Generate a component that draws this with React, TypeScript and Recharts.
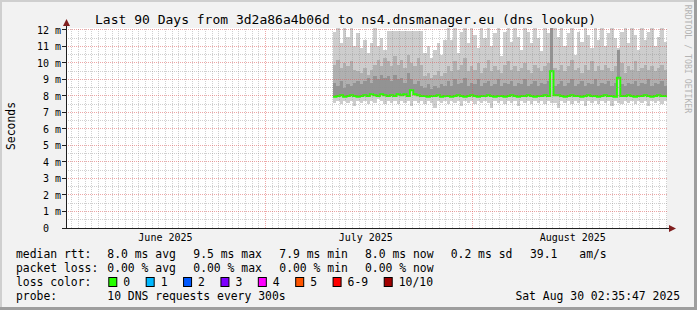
import React from 'react';
import { ComposedChart, Area, Line, XAxis, YAxis, CartesianGrid, ReferenceLine } from 'recharts';

// ---- time frame (days since the start of the 90 day window) ----
const START = Date.UTC(2025, 5, 1, 2, 35, 47);
const DAY = 86400000;
const dayOf = (y: number, m: number, d: number) => (Date.UTC(y, m, d) - START) / DAY;

const FIRST_SAMPLE_DAY = 40;
const SAMPLE_STEP = 0.5;

// ---- smoke / median values (ms), one per half day starting July 11 ----
const smokeTop = [
  11.9, 12.1, 11.2, 12.1, 11.6, 12.1, 11.0, 11.8, 10.9, 11.4,
  10.6, 11.2, 12.1, 11.0, 11.5, 10.8, 11.95, 11.95, 11.95, 11.95,
  11.95, 11.95, 11.95, 11.95, 11.95, 11.95, 11.95, 10.6, 11.0, 10.3,
  10.8, 11.2, 10.5, 11.4, 12.1, 11.4, 12.1, 10.6, 11.9, 12.1,
  11.2, 12.1, 11.7, 10.9, 12.1, 11.5, 12.1, 11.0, 11.8, 12.1,
  10.4, 11.9, 12.1, 11.3, 12.1, 11.6, 10.8, 12.1, 11.9, 11.2,
  12.1, 11.5, 10.7, 12.1, 11.8, 12.12, 12.1, 11.6, 12.1, 11.0,
  11.8, 12.1, 10.5, 11.9, 11.3, 12.1, 11.7, 10.9, 12.1, 11.4,
  12.1, 11.0, 11.8, 12.1, 11.5, 10.9, 11.9, 12.1, 11.2, 12.1,
  11.7, 10.8, 12.1, 11.4, 11.9, 12.1, 11.0, 11.6, 12.1, 11.3,
  11.8,
];
const smokeMid = [
  9.9, 10.2, 9.7, 10.0, 9.8, 10.1, 9.6, 9.5, 9.4, 9.7,
  9.3, 9.6, 9.9, 10.2, 9.8, 10.3, 10.1, 9.8, 10.4, 9.9,
  10.2, 9.7, 10.5, 10.0, 9.8, 10.3, 9.9, 9.2, 9.4, 9.1,
  9.3, 9.5, 9.2, 9.4, 9.8, 9.5, 10.1, 9.6, 9.9, 10.3,
  9.5, 9.8, 9.6, 10.0, 9.4, 9.7, 10.2, 9.5, 9.8, 9.6,
  9.4, 9.9, 10.1, 9.6, 9.8, 9.5, 9.7, 10.0, 9.6, 9.4,
  9.9, 9.7, 9.5, 9.8, 10.0, 12.12, 9.7, 9.6, 9.9, 9.5,
  9.8, 10.2, 9.6, 9.7, 9.4, 9.9, 9.6, 10.1, 9.5, 9.8,
  9.6, 9.9, 9.7, 9.5, 9.8, 10.8, 10.0, 9.4, 9.8, 9.6,
  10.1, 9.5, 9.7, 9.9, 9.6, 9.8, 9.5, 9.7, 9.9, 9.6,
  9.8,
];
const smokeDark = [
  8.8, 8.6, 8.9, 8.5, 8.7, 8.6, 8.8, 8.9, 8.7, 8.9,
  9.1, 8.8, 9.2, 9.0, 9.3, 9.1, 9.2, 8.9, 9.3, 9.0,
  9.1, 8.8, 9.4, 9.0, 8.7, 8.9, 8.6, 8.5, 8.7, 8.4,
  8.6, 8.5, 8.7, 8.6, 8.9, 8.6, 9.0, 8.7, 8.8, 9.1,
  8.6, 8.8, 8.7, 9.0, 8.6, 8.8, 8.9, 8.6, 8.7, 9.0,
  8.6, 8.8, 8.7, 8.9, 8.6, 8.8, 8.7, 9.0, 8.6, 8.7,
  8.9, 8.6, 8.8, 8.7, 8.9, 12.12, 8.6, 8.7, 8.9, 8.6,
  8.8, 9.0, 8.6, 8.7, 8.9, 8.6, 8.8, 8.7, 9.0, 8.6,
  8.8, 8.7, 8.9, 8.6, 8.8, 10.8, 8.7, 8.6, 8.8, 8.7,
  8.9, 8.6, 8.8, 8.7, 9.0, 8.6, 8.8, 8.7, 8.9, 8.6,
  8.8,
];
const smokeBottom = [
  7.6, 7.7, 7.5, 7.7, 7.6, 7.7, 7.4, 7.7, 7.6, 7.7,
  7.5, 7.7, 7.6, 7.8, 7.7, 7.5, 7.7, 7.6, 7.7, 7.5,
  7.7, 7.6, 7.7, 7.4, 7.7, 7.6, 7.7, 7.5, 7.7, 7.6,
  7.3, 7.7, 7.6, 7.7, 7.5, 7.7, 7.6, 7.7, 7.4, 7.7,
  7.6, 7.7, 7.5, 7.7, 7.6, 7.7, 7.6, 7.3, 7.7, 7.6,
  7.7, 7.5, 7.7, 7.6, 7.7, 7.4, 7.7, 7.6, 7.7, 7.5,
  7.7, 7.6, 7.7, 7.5, 7.7, 7.6, 7.6, 7.3, 7.7, 7.6,
  7.7, 7.5, 7.7, 7.6, 7.7, 7.4, 7.7, 7.6, 7.7, 7.5,
  7.7, 7.6, 7.7, 7.4, 7.7, 7.6, 7.5, 7.7, 7.6, 7.7,
  7.5, 7.7, 7.6, 7.7, 7.4, 7.7, 7.6, 7.7, 7.5, 7.7,
  7.6,
];
const medianRtt = [
  7.95, 8.0, 8.05, 7.95, 8.0, 8.05, 8.0, 7.95, 8.0, 8.05,
  8.0, 8.1, 8.05, 8.0, 8.1, 8.05, 8.0, 8.05, 8.0, 8.1,
  8.05, 8.1, 8.0, 8.35, 8.1, 8.05, 8.0, 8.0, 7.95, 8.0,
  8.0, 8.05, 7.95, 8.0, 8.0, 7.95, 8.0, 8.05, 8.0, 7.95,
  8.0, 8.05, 8.0, 7.95, 8.0, 8.0, 8.05, 8.0, 7.95, 8.0,
  8.0, 7.95, 8.0, 8.05, 8.0, 7.95, 8.0, 8.0, 8.05, 8.0,
  7.95, 8.0, 8.0, 8.05, 8.0, 9.5, 8.05, 8.05, 8.0, 7.95,
  8.0, 8.05, 8.0, 8.0, 7.95, 8.0, 8.05, 8.0, 8.0, 7.95,
  8.0, 8.05, 8.0, 8.0, 7.95, 9.1, 8.0, 8.0, 8.05, 8.0,
  7.95, 8.0, 8.0, 8.05, 8.0, 7.95, 8.0, 8.05, 8.0, 8.0,
  8.0,
];

// ---- axis labels ----
const monthNames = ['June 2025', 'July 2025', 'August 2025'];
const monthLabelDays = [dayOf(2025, 5, 16), dayOf(2025, 6, 16), dayOf(2025, 7, 16)];
const monthStartDays = [dayOf(2025, 6, 1), dayOf(2025, 7, 1)];
const yTicks = [0, 1, 2, 3, 4, 5, 6, 7, 8, 9, 10, 11, 12];
const Y_MAX = 12.12;

// ---- legend texts ----
const title = 'Last 90 Days from 3d2a86a4b06d to ns4.dnsmanager.eu (dns lookup)';
const rttStats = ['8.0 ms avg', '9.5 ms max', '7.9 ms min', '8.0 ms now', '0.2 ms sd', '39.1', 'am/s'];
const lossStats = ['0.00 % avg', '0.00 % max', '0.00 % min', '0.00 % now'];
const lossLabels = ['0', '1', '2', '3', '4', '5', '6-9', '10/10'];
const lossColors = ['#26ff00', '#00b8ff', '#0059ff', '#7e00ff', '#ff00ff', '#ff5500', '#ff0000', '#a10000'];
const probeText = '10 DNS requests every 300s';
const stamp = 'Sat Aug 30 02:35:47 2025';

const data = smokeTop.map((_, i) => ({
  t: FIRST_SAMPLE_DAY + i * SAMPLE_STEP,
  outer: [smokeBottom[i], smokeTop[i]],
  mid: [medianRtt[i], smokeMid[i]],
  dark: [medianRtt[i], smokeDark[i]],
  med: medianRtt[i],
}));

const dayLines: number[] = [];
for (let k = 1; k <= 90; k++) {
  const d = dayOf(2025, 5, 1 + k);
  if (d > 0 && d < 90 && !monthStartDays.some((m) => Math.abs(m - d) < 1e-6)) dayLines.push(d);
}
const halfLines: number[] = [];
for (let v = 0.5; v < 12.1; v += 1) halfLines.push(v);
const majorY = yTicks.filter((v) => v > 0);

const MONO = '"DejaVu Sans Mono", monospace';
const CW = 6.88;
const MINOR = 'rgba(143,143,143,0.42)';
const MAJOR = 'rgba(222,79,79,0.5)';

const css = `
.recharts-reference-line line, .recharts-cartesian-axis-line, .recharts-cartesian-axis-tick-line { shape-rendering: crispEdges; }
.recharts-area-area { shape-rendering: crispEdges; }
`;

const YTick = (props: any) => {
  const { x, y, payload } = props;
  const v = payload.value;
  const label = v === 0 ? '0  ' : `${v} m`;
  return (
    <text x={x} y={y} dy={4} textAnchor="end" xmlSpace="preserve" style={{ whiteSpace: 'pre' }}
      fontFamily={MONO} fontSize={10} fill="#000">{label}</text>
  );
};

const fmtMonth = (v: number) => {
  const i = monthLabelDays.findIndex((d) => Math.abs(d - v) < 1e-6);
  return i >= 0 ? monthNames[i] : '';
};

export default function App() {
  const rowY = [258, 272, 286, 300];
  const statX = [107.3, 193.3, 279.3, 365, 450.7, 530, 579.3];
  let lx = 108.3;
  const lossItems = lossLabels.map((lab, i) => {
    const item = { x: lx, lab, col: lossColors[i] };
    lx = lx + 15 + lab.length * CW + 15.5;
    return item;
  });
  return (
    <div style={{ position: 'absolute', left: 0, top: 0, width: 697, height: 310, background: '#f2f2f2', overflow: 'hidden' }}>
      <style>{css}</style>
      <ComposedChart width={697} height={310} data={data} margin={{ top: 28, right: 30, bottom: 52, left: 6 }}>
        <CartesianGrid fill="#ffffff" horizontal={false} vertical={false} stroke="none" />
        <XAxis type="number" dataKey="t" domain={[0, 90]} ticks={monthLabelDays} tickFormatter={fmtMonth}
          allowDataOverflow height={30} tickLine={false} tickSize={0} tickMargin={6}
          axisLine={{ stroke: '#1f1f1f' }} interval={0}
          tick={{ fontFamily: MONO, fontSize: 10, fill: '#000' }} />
        <YAxis type="number" domain={[0, Y_MAX]} ticks={yTicks} allowDataOverflow width={60}
          tickSize={4} tickMargin={1} tickLine={{ stroke: '#1f1f1f' }} axisLine={{ stroke: '#1f1f1f' }}
          tick={<YTick />} interval={0} />
        <Area dataKey="outer" type="stepAfter" fill="#cdcdcd" fillOpacity={1} stroke="none" isAnimationActive={false} dot={false} activeDot={false} />
        <Area dataKey="mid" type="stepAfter" fill="#b0b0b0" fillOpacity={1} stroke="none" isAnimationActive={false} dot={false} activeDot={false} />
        <Area dataKey="dark" type="stepAfter" fill="#939393" fillOpacity={1} stroke="none" isAnimationActive={false} dot={false} activeDot={false} />
        <Line dataKey="med" type="stepAfter" stroke="#26ff00" strokeWidth={2} dot={false} activeDot={false} isAnimationActive={false} />
        {dayLines.map((d) => (
          <ReferenceLine key={`d${d}`} x={d} stroke={MINOR} strokeDasharray="1 1" />
        ))}
        {halfLines.map((v) => (
          <ReferenceLine key={`h${v}`} y={v} stroke={MINOR} strokeDasharray="1 1" />
        ))}
        {monthStartDays.map((d) => (
          <ReferenceLine key={`m${d}`} x={d} stroke={MAJOR} strokeDasharray="1 1" />
        ))}
        {majorY.map((v) => (
          <ReferenceLine key={`y${v}`} y={v} stroke={MAJOR} strokeDasharray="1 1" />
        ))}
      </ComposedChart>
      <svg width={697} height={310} style={{ position: 'absolute', left: 0, top: 0, pointerEvents: 'none' }}>
        {/* frame */}
        <rect x={0} y={0} width={697} height={2} fill="#cfcfcf" />
        <rect x={0} y={0} width={2} height={310} fill="#cfcfcf" />
        <rect x={0} y={307} width={697} height={3} fill="#9e9e9e" />
        <rect x={694} y={0} width={3} height={310} fill="#9e9e9e" />
        {/* axis extensions and arrows */}
        <line x1={66.5} y1={22} x2={66.5} y2={28} stroke="#1f1f1f" />
        <line x1={62} y1={228.5} x2={66} y2={228.5} stroke="#1f1f1f" />
        <line x1={667} y1={228.5} x2={671} y2={228.5} stroke="#1f1f1f" />
        <polygon points="63,26 70,26 66.5,19" fill="#801f1f" />
        <polygon points="669,225 669,232 676,228.5" fill="#801f1f" />
        {/* title */}
        <text x={345.5} y={24} textAnchor="middle" fontFamily={MONO} fontSize={13} fill="#000">{title}</text>
        {/* y label */}
        <text transform="translate(15,126) rotate(-90)" textAnchor="middle" fontFamily={MONO} fontSize={11.4} fill="#000">Seconds</text>
        {/* watermark */}
        <text transform="translate(685,59) rotate(90)" textAnchor="middle" fontFamily={MONO} fontSize={8.2} fill="#b4b4b4">RRDTOOL / TOBI OETIKER</text>
        {/* legend */}
        <g fontFamily={MONO} fontSize={11.4} fill="#000">
          <text x={16} y={rowY[0]}>median rtt:</text>
          {rttStats.map((s, i) => (
            <text key={`r${i}`} x={statX[i]} y={rowY[0]}>{s}</text>
          ))}
          <text x={16} y={rowY[1]}>packet loss:</text>
          {lossStats.map((s, i) => (
            <text key={`l${i}`} x={statX[i]} y={rowY[1]}>{s}</text>
          ))}
          <text x={16} y={rowY[2]}>loss color:</text>
          {lossItems.map((it, i) => (
            <g key={`c${i}`}>
              <rect x={it.x + 0.5} y={277.5} width={8} height={9} fill={it.col} stroke="#000" strokeWidth={1} />
              <text x={it.x + 15} y={rowY[2]}>{it.lab}</text>
            </g>
          ))}
          <text x={16} y={rowY[3]}>probe:</text>
          <text x={statX[0]} y={rowY[3]}>{probeText}</text>
          <text x={680} y={rowY[3]} textAnchor="end">{stamp}</text>
        </g>
      </svg>
    </div>
  );
}
